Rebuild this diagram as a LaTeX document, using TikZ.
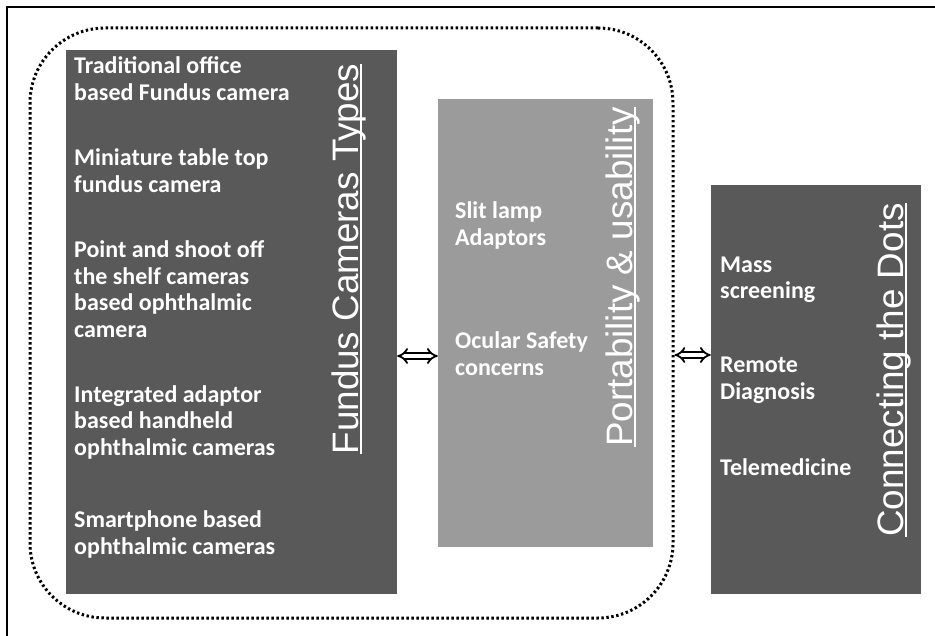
\documentclass[tikz,border=0pt]{standalone}
\usepackage{fontspec}
\setmainfont{Carlito}
\newfontfamily\headfont{Liberation Sans}
\usetikzlibrary{arrows.meta,positioning}
\definecolor{boxDark}{HTML}{595959}
\definecolor{boxLight}{HTML}{9B9B9B}
% heading text with a rule just under the baseline
\newcommand{\headline}[1]{\setbox0\hbox{#1}\rlap{\rule[-3.5pt]{\wd0}{1.3pt}}\box0}

\begin{document}
\begin{tikzpicture}[x=1pt,y=-1pt,
  panel/.style={draw=none,inner sep=0pt},
  darkpanel/.style={panel,fill=boxDark},
  lightpanel/.style={panel,fill=boxLight},
  item/.style={anchor=west,align=left,text=white,inner sep=0pt,font=\bfseries\fontsize{24}{26.5}\selectfont},
  heading/.style={anchor=base,rotate=90,text=white,inner sep=0pt,font=\headfont\fontsize{36.8}{40}\selectfont},
  group/.style={draw,line width=3pt,dash pattern=on 2.4pt off 2.6pt,rounded corners=75pt,minimum width=643pt,minimum height=590pt},
  link/.style={double,double distance=3.5pt,line width=1.8pt,{Implies[length=7pt,width=15pt]}-{Implies[length=7pt,width=15pt]}}]

  \useasboundingbox (0,0) rectangle (935,636);
  \draw[line width=2pt] (7,636) -- (7,7) -- (935,7);

  % the three columns
  \node[group] (hardware) at (351.5,323) {};
  \node[darkpanel,minimum width=331pt,minimum height=544pt] (types) at (231.5,322) {};
  \node[lightpanel,minimum width=215pt,minimum height=448pt] (portable) at (545.5,323) {};
  \node[darkpanel,minimum width=210pt,minimum height=409pt] (dots) at (816,389.5) {};

  \node[heading] (typesTitle) at (358,259) {\headline{Fundus Cameras Types}};
  \node[heading] (portTitle) at (632,277) {\headline{Portability \& usability}};
  \node[heading] (dotsTitle) at (903,370) {\headline{Connecting the Dots}};

  % camera types
  \node[item] (office) at (74,78.5) {Traditional office\\based Fundus camera};
  \node[item] (tabletop) at (74,170.5) {Miniature table top\\fundus camera};
  \node[item] (pointshoot) at (74,289) {Point and shoot off\\the shelf cameras\\based ophthalmic\\camera};
  \node[item] (handheld) at (74,422) {Integrated adaptor\\based handheld\\ophthalmic cameras};
  \node[item] (phone) at (74,534.5) {Smartphone based\\ophthalmic cameras};

  \node[item] (slitlamp) at (455,225.5) {Slit lamp\\Adaptors};
  \node[item] (safety) at (455,353.5) {Ocular Safety\\concerns};

  \node[item] (screening) at (720,280) {Mass\\screening};
  \node[item] (remote) at (720,380.5) {Remote\\Diagnosis};
  \node[item] (tele) at (720,467) {Telemedicine};

  \draw[link] ([yshift=-34pt]types.east) -- ([yshift=-34pt]types.east -| portable.west);
  \draw[link] ([yshift=-32pt]hardware.east) -- ([yshift=-32pt]hardware.east -| dots.west);
\end{tikzpicture}
\end{document}
